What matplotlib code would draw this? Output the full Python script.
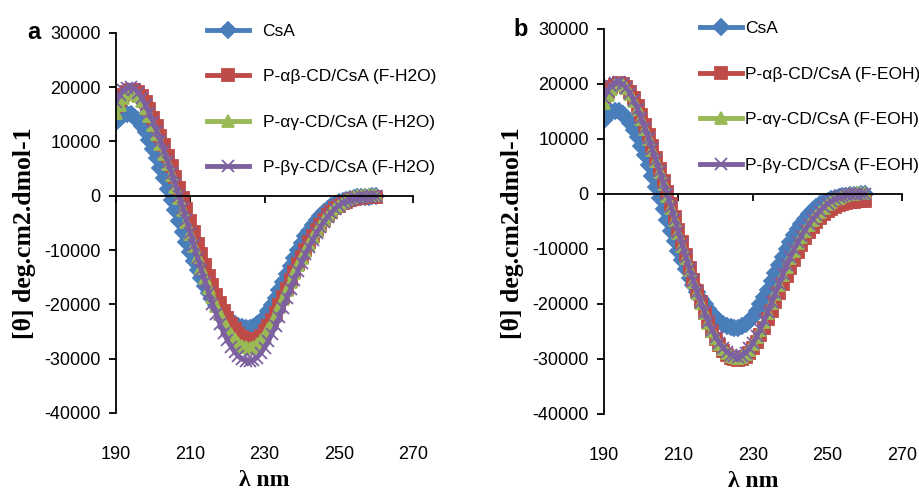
import matplotlib
matplotlib.use("Agg")
from matplotlib import pyplot as plt

plt.rcParams['font.family'] = ['Liberation Sans', 'DejaVu Sans']
plt.rcParams['axes.unicode_minus'] = False

# wavelength grid (nm)
wl = list(range(190, 261))

csa = [13500, 14300, 14900, 15100, 15000, 14600, 13900, 12900, 11700, 10300,
       8700, 7000, 5200, 3300, 1300, -700, -2700, -4700, -6700, -8600,
       -10400, -12100, -13700, -15200, -16600, -17900, -19100, -20100, -21000, -21800,
       -22500, -23100, -23600, -24000, -24200, -24300, -24300, -24100, -23700, -23100,
       -22300, -21300, -20100, -18800, -17400, -15900, -14400, -12900, -11400, -10000,
       -8700, -7500, -6400, -5400, -4500, -3700, -3000, -2400, -1900, -1500,
       -1200, -900, -700, -550, -400, -300, -250, -200, -150, -100, -100]

# panel a, F-H2O
ab_h2o = [16500, 17600, 18500, 19100, 19500, 19500, 19100, 18300, 17200, 15900,
          14400, 12800, 11100, 9300, 7400, 5500, 3500, 1500, -500, -2500,
          -4600, -6700, -8800, -10800, -12800, -14700, -16500, -18200, -19800, -21200,
          -22500, -23600, -24600, -25400, -26000, -26400, -26600, -26600, -26300, -25800,
          -25000, -24000, -22900, -21600, -20200, -18700, -17200, -15600, -14100, -12600,
          -11200, -9900, -8600, -7400, -6300, -5300, -4400, -3600, -2900, -2300,
          -1800, -1400, -1100, -800, -600, -500, -400, -300, -300, -200, -200]
ag_h2o = [15300, 16800, 18000, 18800, 19200, 19000, 18400, 17400, 16200, 14700,
          13100, 11400, 9600, 7700, 5800, 3800, 1700, -400, -2600, -4800,
          -7000, -9200, -11300, -13300, -15200, -17000, -18700, -20300, -21800, -23200,
          -24400, -25500, -26400, -27100, -27600, -27900, -28000, -27800, -27300, -26600,
          -25700, -24600, -23400, -22000, -20500, -19000, -17400, -15800, -14300, -12800,
          -11400, -10100, -8800, -7600, -6500, -5500, -4500, -3700, -2900, -2200,
          -1700, -1200, -800, -500, -300, -100, 0, 100, 100, 100, 100]
bg_h2o = [17300, 18500, 19400, 19900, 20000, 19700, 19000, 18000, 16700, 15200,
          13600, 11900, 10100, 8200, 6200, 4200, 2100, 0, -2200, -4500,
          -6800, -9100, -11400, -13600, -15800, -17900, -19900, -21800, -23600, -25200,
          -26600, -27800, -28800, -29600, -30100, -30400, -30500, -30300, -29800, -29000,
          -28000, -26800, -25400, -23900, -22300, -20600, -18900, -17200, -15500, -13900,
          -12300, -10800, -9400, -8100, -6900, -5800, -4800, -3900, -3100, -2400,
          -1800, -1300, -1000, -700, -500, -400, -300, -200, -200, -100, -100]

# panel b, F-EOH
ab_eoh = [17600, 18600, 19400, 19900, 20100, 20000, 19500, 18600, 17400, 16000,
          14400, 12600, 10700, 8700, 6600, 4500, 2400, 300, -1900, -4200,
          -6500, -8800, -11100, -13400, -15600, -17700, -19700, -21600, -23300, -24900,
          -26300, -27500, -28500, -29300, -29800, -30100, -30200, -30100, -29700, -29000,
          -28100, -27000, -25700, -24300, -22800, -21200, -19600, -18000, -16400, -14900,
          -13400, -12000, -10600, -9300, -8100, -7000, -6000, -5100, -4300, -3700,
          -3100, -2700, -2300, -2000, -1800, -1600, -1500, -1400, -1300, -1300, -1200]
ag_eoh = [16500, 18000, 19100, 19800, 20000, 19800, 19200, 18200, 16900, 15400,
          13700, 11900, 10000, 8000, 6000, 3900, 1800, -300, -2500, -4800,
          -7100, -9400, -11700, -13900, -16000, -18000, -19900, -21700, -23400, -24900,
          -26200, -27300, -28200, -28900, -29400, -29700, -29800, -29600, -29100, -28300,
          -27300, -26100, -24700, -23200, -21600, -19900, -18200, -16500, -14800, -13200,
          -11700, -10300, -9000, -7800, -6700, -5700, -4800, -4000, -3200, -2500,
          -1900, -1400, -1000, -700, -400, -200, -100, 0, 100, 100, 100]
bg_eoh = [17500, 18800, 19700, 20200, 20300, 20000, 19300, 18300, 17000, 15500,
          13800, 12000, 10100, 8100, 6100, 4100, 2000, -100, -2300, -4600,
          -6900, -9200, -11500, -13700, -15800, -17800, -19700, -21500, -23200, -24700,
          -26000, -27100, -28000, -28700, -29200, -29500, -29600, -29400, -28900, -28100,
          -27100, -25900, -24500, -23000, -21400, -19700, -18000, -16300, -14600, -13000,
          -11500, -10100, -8800, -7600, -6500, -5500, -4600, -3800, -3100, -2400,
          -1800, -1300, -900, -600, -400, -200, -100, 0, 0, 0, 0]

xticks = [190, 210, 230, 250, 270]
yticks = [-40000, -30000, -20000, -10000, 0, 10000, 20000, 30000]

colors = ['#4A7EBB', '#BE4B48', '#98B954', '#7D60A0']
markers = ['D', 's', '^', 'x']


def draw(ax, series, labels, leg_anchor, textpad, ylab_pos):
    for y, lab, c, m in zip(series, labels, colors, markers):
        ax.plot(wl, y, color=c, lw=3.5, marker=m, ms=8, mfc=c, mec=c,
                mew=1.3, label=lab)
    ax.set_xlim(190, 270)
    ax.set_ylim(-40000, 30000)
    ax.set_yticks(yticks)
    ax.set_xticks(xticks)
    ax.spines['top'].set_visible(False)
    ax.spines['right'].set_visible(False)
    ax.spines['bottom'].set_position(('data', 0))
    ax.spines['left'].set_linewidth(1.3)
    ax.spines['bottom'].set_linewidth(1.3)
    ax.tick_params(axis='x', labelbottom=False, length=5, width=1.3)
    ax.tick_params(axis='y', labelsize=13, length=5, width=1.3, pad=6)
    sec = ax.secondary_xaxis('bottom')
    sec.set_xticks(xticks)
    sec.spines['bottom'].set_visible(False)
    sec.tick_params(length=0, labelsize=13, pad=24)
    sec.set_xlabel('λ nm', family=['Liberation Serif'], fontweight='bold',
                   fontsize=17, labelpad=5)
    ax.set_ylabel('[θ] deg.cm2.dmol-1', family=['Liberation Serif'],
                  fontweight='bold', fontsize=18.5)
    ax.yaxis.set_label_coords(*ylab_pos)
    ax.legend(loc='upper left', bbox_to_anchor=leg_anchor,
              bbox_transform=ax.figure.transFigure, frameon=False,
              fontsize=12.5, borderpad=0, borderaxespad=0, handlelength=2.4,
              handletextpad=textpad, labelspacing=1.75)


fig = plt.figure(figsize=(9.2, 4.91), dpi=100)
ax1 = fig.add_axes([0.126, 0.159, 0.323, 0.774])
ax2 = fig.add_axes([0.6565, 0.157, 0.324, 0.784])

draw(ax1, [csa, ab_h2o, ag_h2o, bg_h2o],
     ['CsA', 'P-αβ-CD/CsA (F-H2O)', 'P-αγ-CD/CsA (F-H2O)', 'P-βγ-CD/CsA (F-H2O)'],
     (0.225, 0.952), 0.8, (-0.27, 0.474))
draw(ax2, [csa, ab_eoh, ag_eoh, bg_eoh],
     ['CsA', 'P-αβ-CD/CsA (F-EOH)', 'P-αγ-CD/CsA (F-EOH)', 'P-βγ-CD/CsA (F-EOH)'],
     (0.761, 0.957), 0.2, (-0.268, 0.47))

fig.text(0.03, 0.933, 'a', fontsize=17, fontweight='bold', va='center')
fig.text(0.558, 0.94, 'b', fontsize=17, fontweight='bold', va='center')

plt.savefig('out.png', dpi=100)
